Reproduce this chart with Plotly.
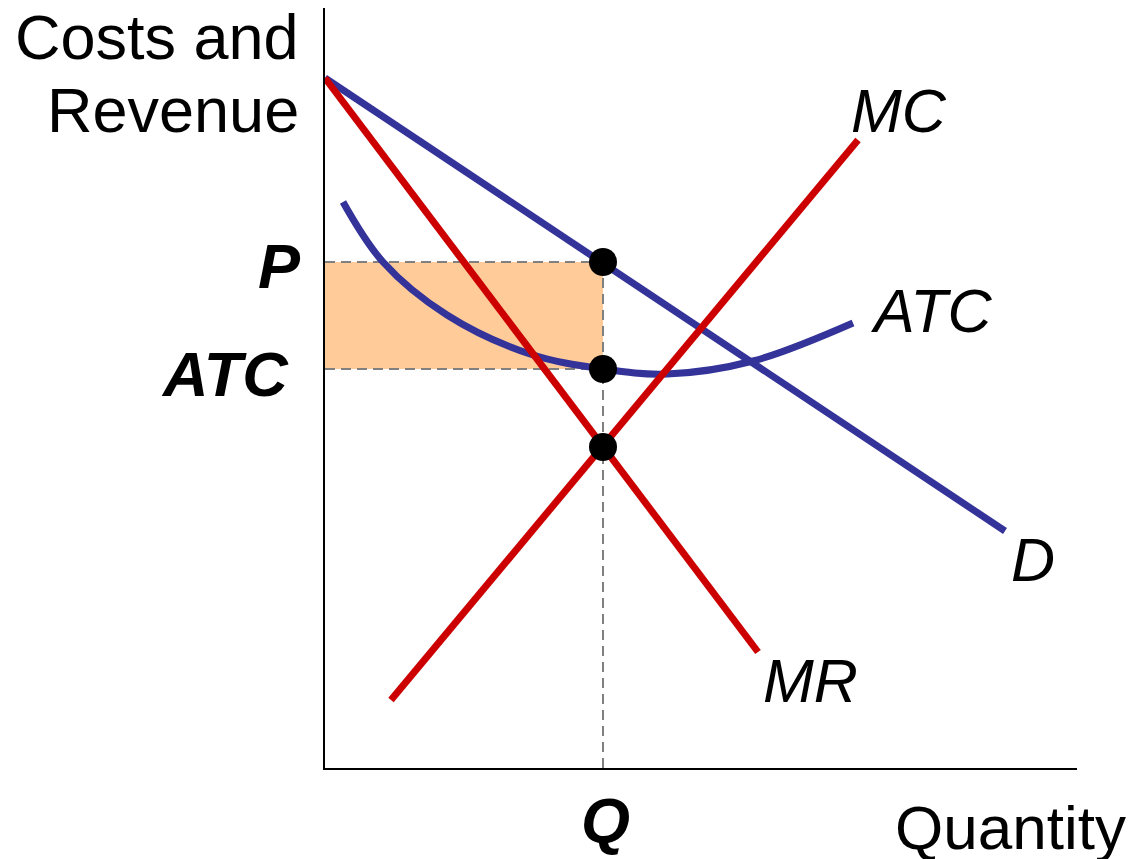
import plotly.graph_objects as go

# ---- data (units: quantity / price) ----
d_x = [0, 680]
d_y = [690, 237]

mr_x = [0, 433]
mr_y = [690, 116]

mc_x = [66, 533]
mc_y = [68, 628]

atc_x = [18, 58, 122, 205, 278, 342, 428, 528]
atc_y = [566, 506, 453, 414, 399, 394, 407, 445]

Q = 278
P = 506
ATC_AT_Q = 399
MC_AT_Q = 321

dot_x = [Q, Q, Q]
dot_y = [P, ATC_AT_Q, MC_AT_Q]

X_MAX = 752
Y_MAX = 760

BLUE = "#333399"
RED = "#CC0000"
GREY = "#808080"
FILL = "#FFCC99"
FONT = "Liberation Sans, Arial, sans-serif"

W, H = 1146, 859
OFF = 8  # page body margin offset
ML, MR_, MT, MB = 325 - OFF, 1146 - (1077 - OFF), 0, 859 - (768 - OFF)

fig = go.Figure()

# dashed guides
for gx, gy in [([0, Q], [P, P]), ([0, Q], [ATC_AT_Q, ATC_AT_Q]), ([Q, Q], [0, P])]:
    fig.add_trace(go.Scatter(x=gx, y=gy, mode="lines",
                             line=dict(color=GREY, width=2, dash="10px,6px"),
                             hoverinfo="skip", showlegend=False))

# demand and ATC
fig.add_trace(go.Scatter(x=d_x, y=d_y, mode="lines", name="D",
                         line=dict(color=BLUE, width=7), showlegend=False))
fig.add_trace(go.Scatter(x=atc_x, y=atc_y, mode="lines", name="ATC",
                         line=dict(color=BLUE, width=7, shape="spline", smoothing=1),
                         showlegend=False))
# MR and MC
fig.add_trace(go.Scatter(x=mr_x, y=mr_y, mode="lines", name="MR",
                         line=dict(color=RED, width=7), showlegend=False))
fig.add_trace(go.Scatter(x=mc_x, y=mc_y, mode="lines", name="MC",
                         line=dict(color=RED, width=7), showlegend=False))
# points
fig.add_trace(go.Scatter(x=dot_x, y=dot_y, mode="markers",
                         marker=dict(color="black", size=28),
                         showlegend=False))

# profit rectangle
fig.add_shape(type="rect", xref="x", yref="y", x0=0, x1=Q, y0=ATC_AT_Q, y1=P,
              fillcolor=FILL, line=dict(width=0), layer="below")


def px_x(px):
    return (px - OFF - ML) / (W - ML - MR_)


def px_y(py):
    return (H - MB - (py - OFF)) / (H - MT - MB)


def label(text, x, y, xanchor, size=63):
    fig.add_annotation(text=text, x=px_x(x), y=px_y(y), xref="paper", yref="paper",
                       xanchor=xanchor, yanchor="middle", showarrow=False,
                       font=dict(family=FONT, size=size, color="black"))


label("Costs and", 301, 37, "right")
label("Revenue", 301, 110, "right")
label("<b><i>P</i></b>", 303, 266, "right")
label("<b><i>ATC</i></b>", 291, 374, "right")
label("<b><i>Q</i></b>", 605, 820, "center")
label("Quantity", 893, 827, "left", 62)
label("<i>MC</i>", 849, 111, "left", 61)
label("<i>ATC</i>", 868, 311, "left", 61)
label("<i>D</i>", 1009, 560, "left", 61)
label("<i>MR</i>", 761, 681, "left", 61)

fig.update_xaxes(range=[0, X_MAX], showline=True, linecolor="black", linewidth=2,
                 showgrid=False, zeroline=False, showticklabels=False, ticks="")
fig.update_yaxes(range=[0, Y_MAX], showline=True, linecolor="black", linewidth=2,
                 showgrid=False, zeroline=False, showticklabels=False, ticks="")

fig.update_layout(width=W, height=H, margin=dict(l=ML, r=MR_, t=MT, b=MB),
                  plot_bgcolor="white", paper_bgcolor="white", showlegend=False)

fig.write_html("out.html")
